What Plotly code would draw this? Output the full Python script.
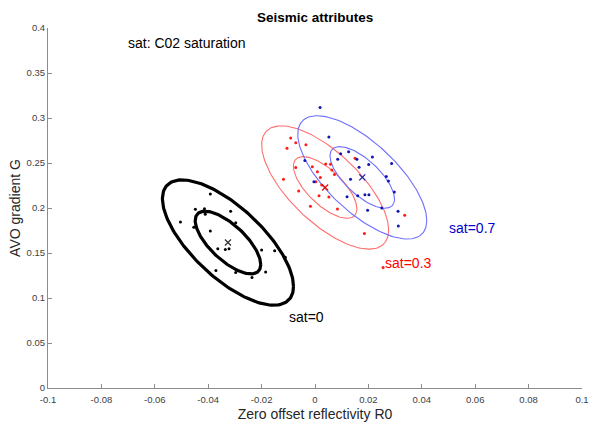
import numpy as np
import plotly.graph_objects as go

# ---- data ----
black_x = [-0.0392, -0.0448, -0.0414, -0.0411, -0.0316, -0.0504, -0.0454, -0.0297, -0.0392, -0.0364,
           -0.0336, -0.0322, -0.0200, -0.0151, -0.0111, -0.0371, -0.0297, -0.0185, -0.0236]
black_y = [0.2156, 0.1986, 0.1992, 0.1930, 0.1963, 0.1844, 0.1785, 0.1836, 0.1744, 0.1547,
           0.1540, 0.1547, 0.1532, 0.1524, 0.1454, 0.1306, 0.1284, 0.1290, 0.1228]

red_x = [-0.0091, -0.0072, -0.0105, -0.0034, 0.0150, -0.0072, -0.0010, 0.0040, 0.0058, 0.0009,
         0.0063, 0.0073, 0.0020, -0.0118, 0.0003, 0.0025, -0.0061, 0.0015, 0.0052, -0.0017,
         0.0084, 0.0336, 0.0185, 0.0255]
red_y = [0.2777, 0.2724, 0.2665, 0.2702, 0.2554, 0.2451, 0.2457, 0.2490, 0.2487, 0.2404,
         0.2423, 0.2373, 0.2340, 0.2320, 0.2293, 0.2256, 0.2189, 0.2137, 0.2123, 0.2020,
         0.1989, 0.1919, 0.1716, 0.1339]

blue_x = [0.0019, 0.0052, 0.0126, 0.0096, 0.0157, 0.0215, 0.0085, -0.0038, 0.0165, 0.0201,
          0.0287, 0.0267, 0.0275, 0.0133, -0.0004, 0.0297, 0.0120, 0.0160, 0.0187, 0.0202,
          0.0250, 0.0197, 0.0311, 0.0312]
blue_y = [0.3118, 0.2788, 0.2624, 0.2602, 0.2543, 0.2568, 0.2543, 0.2527, 0.2454, 0.2482,
          0.2494, 0.2349, 0.2301, 0.2320, 0.2293, 0.2178, 0.2126, 0.2137, 0.2148, 0.2148,
          0.2000, 0.1974, 0.1963, 0.1799]

# ellipse parameters: [mean_x, mean_y, std_x, std_y, correlation]
groups = ["sat=0", "sat=0.3", "sat=0.7"]
mean_x = [-0.0326, 0.0038, 0.0177]
mean_y = [0.1616, 0.2228, 0.2340]
std_x = [0.01227, 0.01189, 0.01208]
std_y = [0.03482, 0.03426, 0.03426]
corr = [-0.70, -0.69, -0.70]
scales = [1, 2]

x_ticks = [-0.1, -0.08, -0.06, -0.04, -0.02, 0, 0.02, 0.04, 0.06, 0.08, 0.1]
x_ticktext = ["-0.1", "-0.08", "-0.06", "-0.04", "-0.02", "0", "0.02", "0.04", "0.06", "0.08", "0.1"]
y_ticks = [0, 0.05, 0.1, 0.15, 0.2, 0.25, 0.3, 0.35, 0.4]
y_ticktext = ["0", "0.05", "0.1", "0.15", "0.2", "0.25", "0.3", "0.35", "0.4"]

# styles
ell_colors = ["#000000", "#ff6e6e", "#6e6eff"]
ell_widths = [3.2, 1.1, 1.1]
dot_colors = ["#000000", "#ff1a1a", "#1414b0"]
cross_colors = ["#333333", "#e01010", "#2020b0"]
label_colors = ["#000000", "#ff0000", "#0000cc"]
label_pos = [(-0.0104, 0.0786), (0.0256, 0.1387), (0.0496, 0.1777)]

FONT = "Liberation Sans, Arial, Helvetica, sans-serif"

fig = go.Figure()

t = np.linspace(0, 2 * np.pi, 200)
for i in range(3):
    for k in scales:
        ex = mean_x[i] + k * std_x[i] * np.cos(t)
        ey = mean_y[i] + k * std_y[i] * (corr[i] * np.cos(t) + np.sqrt(1 - corr[i] ** 2) * np.sin(t))
        fig.add_trace(go.Scatter(x=ex, y=ey, mode="lines",
                                 line=dict(color=ell_colors[i], width=ell_widths[i]),
                                 hoverinfo="skip", showlegend=False))

for xs, ys, c in [(black_x, black_y, dot_colors[0]), (red_x, red_y, dot_colors[1]), (blue_x, blue_y, dot_colors[2])]:
    fig.add_trace(go.Scatter(x=xs, y=ys, mode="markers",
                             marker=dict(color=c, size=3, line=dict(width=0)),
                             showlegend=False))

for i in range(3):
    fig.add_trace(go.Scatter(x=[mean_x[i]], y=[mean_y[i]], mode="markers",
                             marker=dict(symbol="x-thin", size=6, line=dict(color=cross_colors[i], width=1.3)),
                             showlegend=False))

for i in range(3):
    fig.add_annotation(x=label_pos[i][0], y=label_pos[i][1], text=groups[i], showarrow=False,
                       xanchor="left", yanchor="middle",
                       font=dict(family=FONT, size=14, color=label_colors[i]))

fig.add_annotation(x=-0.0708, y=0.3838, text="sat: C02 saturation", showarrow=False,
                   xanchor="left", yanchor="middle", font=dict(family=FONT, size=14, color="#000000"))

axis_common = dict(showline=True, linecolor="#8c8c8c", linewidth=1, ticks="inside", ticklen=4,
                   tickcolor="#8c8c8c", showgrid=False, zeroline=False, automargin=False,
                   tickfont=dict(family=FONT, size=9.5, color="#404040"))

fig.update_layout(
    width=589, height=422,
    margin=dict(l=48, r=7, t=28, b=34, autoexpand=False),
    paper_bgcolor="white", plot_bgcolor="white",
    title=dict(text="<b>Seismic attributes</b>", x=0.535, xanchor="center", y=0.96, yanchor="middle",
               font=dict(family=FONT, size=13.5, color="#000000")),
    xaxis=dict(range=[-0.1, 0.1], tickvals=x_ticks, ticktext=x_ticktext, ticklabelstandoff=3,
               title=dict(text="Zero offset reflectivity R0", standoff=4,
                          font=dict(family=FONT, size=14, color="#262626")), **axis_common),
    yaxis=dict(range=[0, 0.4], tickvals=y_ticks, ticktext=y_ticktext,
               title=dict(text="AVO gradient G", standoff=2,
                          font=dict(family=FONT, size=14, color="#262626")), **axis_common),
    showlegend=False,
)

fig.write_html("out.html")
